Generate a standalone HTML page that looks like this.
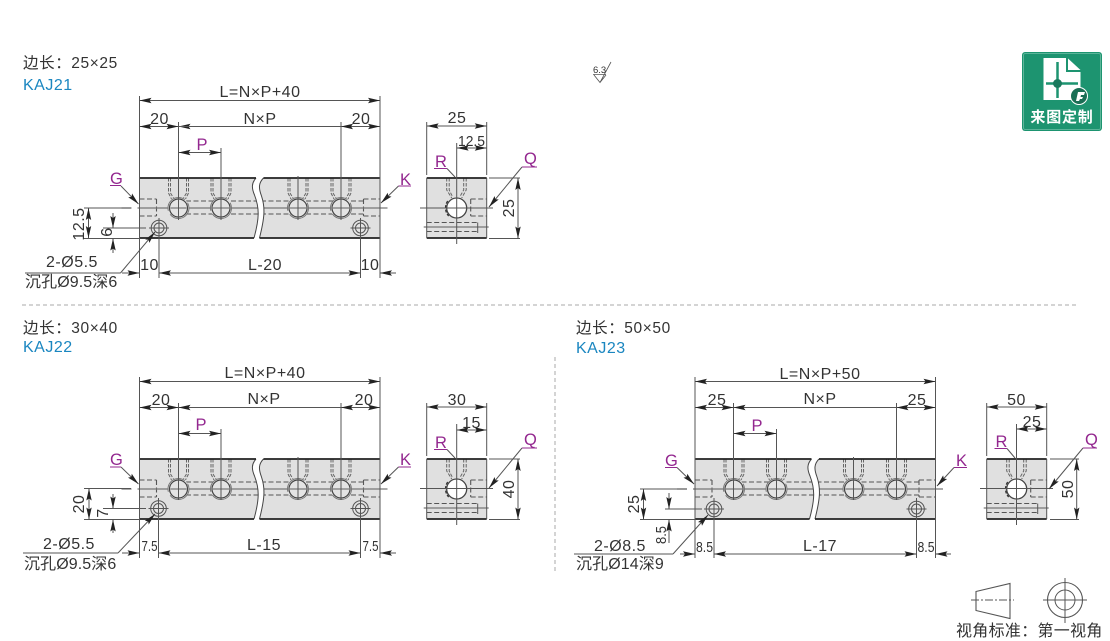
<!DOCTYPE html>
<html>
<head>
<meta charset="utf-8">
<style>
html,body{margin:0;padding:0;background:#fff}
svg{display:block}
text{font-family:"Liberation Sans","Noto Sans CJK SC",sans-serif;font-size:16px;fill:#333;letter-spacing:.5px}
.c{text-anchor:middle}
.m{fill:#93278f;font-size:16.5px;letter-spacing:0}
.s{font-size:15px;letter-spacing:0}
.h{font-size:15.5px;letter-spacing:.6px}
.k{fill:#1a86c0;font-size:16px}
.l{stroke:#555;stroke-width:1;fill:none}
.t{stroke:#93278f;stroke-width:1;fill:none}
.b{stroke:#555;stroke-width:1;fill:none;marker-start:url(#ar);marker-end:url(#ar)}
.e{stroke:#555;stroke-width:1;fill:none;marker-end:url(#ar)}
.d{stroke:#555;stroke-width:1.1;fill:none;stroke-dasharray:5 2.5}
.d2{stroke:#666;stroke-width:1;fill:none;stroke-dasharray:3.5 1.5}
.g{stroke:#777;stroke-width:1.2;fill:none}
</style>
</head>
<body>
<svg width="1110" height="641" viewBox="0 0 1110 641" xmlns="http://www.w3.org/2000/svg">
<defs>
<marker id="ar" markerUnits="userSpaceOnUse" viewBox="0 0 12 6" refX="12" refY="3" markerWidth="12" markerHeight="6" orient="auto-start-reverse"><path d="M0 0.3L12 3L0 5.700L2 3z" fill="#222"/></marker>

<g id="hole">
<path class="d2" d="M-10-30V-15L-7-9M-8-30V-15L-5-10M8-30V-15L5-10M10-30V-15L7-9"/>
<circle r="10.500" fill="#e4e4e4" stroke="#777" stroke-width="1" stroke-dasharray="26 4"/>
<circle r="9" fill="none" stroke="#444" stroke-width="1.200"/>
<path class="g" d="M-8 0H8"/>
</g>

<g id="small">
<circle r="7.800" fill="#e4e4e4" stroke="#555" stroke-width="1"/>
<circle r="5" fill="none" stroke="#555" stroke-width="1"/>
<path class="l" d="M-10 0H10"/>
</g>

<g id="block">
<rect x="0" y="0" width="240.500" height="60" fill="#e0e0e0"/>
<path class="d" d="M0 21H17M0 38H17M17 21V38M39 23H224M39 36H224M224 21H240.500M224 38H240.500M224 21V38"/>
<path class="g" d="M-18 30H-8M-2 30H248"/>
<use href="#hole" x="39" y="30"/>
<use href="#hole" x="81.500" y="30"/>
<use href="#hole" x="158.500" y="30"/>
<use href="#hole" x="201.500" y="30"/>
<path d="M116.500 -1C112 5 112 10 115 17C120 30 120 40 114.500 61H120C125 40 126 30 122 18C119 10 119 5 124 -1z" fill="#fff"/>
<path d="M116.500 0C112 5 112 10 115 17C120 30 120 40 114.500 60M124 0C119 5 119 10 122 18C126 30 125 40 120 60" stroke="#444" stroke-width="1" fill="none"/>
<path d="M0 0H116.500M124 0H240.500M0 60H114.500M120 60H240.500" stroke="#222" stroke-width="1.800" fill="none"/>
<path d="M0 0V60M240.500 0V60" stroke="#555" stroke-width="1" fill="none"/>
</g>

<g id="side">
<rect width="60" height="60" fill="#e0e0e0"/>
<path class="d2" d="M20 0V12L25 20M22.500 0V12L26 19M37 0V12L33 19M39.500 0V12L35 20"/>
<path class="d" d="M44 21H60M44 38H60M44 21V38M0 44.500H52M0 53.500H52"/>
<path class="g" d="M-3 49H62"/>
<path class="l" d="M51 44.500V55"/>
<circle cx="30" cy="30" r="10" fill="#fff" stroke="#444" stroke-width="1.300"/>
<path d="M21 23A12 12 0 0 0 22 38" stroke="#333" stroke-width="1.300" fill="none" stroke-dasharray="3 1.500"/>
<path d="M0 0H60M0 60H60" stroke="#222" stroke-width="1.800" fill="none"/>
<path d="M0 0V60M60 0V60" stroke="#555" stroke-width="1" fill="none"/>
</g>
</defs>

<!-- separators -->
<path d="M22 305H1077" stroke="#aaa" stroke-width="1" stroke-dasharray="4 3" fill="none"/>
<path d="M555 357V571" stroke="#aaa" stroke-width="1" stroke-dasharray="4 3" fill="none"/>

<!-- ========== KAJ21 ========== -->
<text class="h" x="23" y="68">边长：25×25</text>
<text class="k" x="23" y="90">KAJ21</text>
<use href="#block" x="139.500" y="178"/>
<path class="l" d="M139.500 96V178M380 96V178M178.500 122V220M341 122V220M221 148V220M298 176V220"/>
<path class="b" d="M139.500 100.500H380"/>
<path class="b" d="M139.500 126.500H178.500"/>
<path class="b" d="M341 126.500H380"/>
<path class="e" d="M190 126.500H178.500"/>
<path class="l" d="M178.500 126.500H341"/>
<path class="b" d="M178.500 152.500H221"/>
<text class="c" x="260" y="97">L=N×P+40</text>
<text class="c" x="159.500" y="124">20</text>
<text class="c" x="260" y="124">N×P</text>
<text class="c" x="361" y="124">20</text>
<text class="m c" x="202" y="150">P</text>
<use href="#small" x="159" y="228"/>
<use href="#small" x="360.500" y="228"/>
<path class="l" d="M84 208H131M84 238.500H139M103 228H146M159 218V278M360.500 218V278M139.500 238V278M380 238V278"/>
<path class="b" d="M88.500 208V238"/>
<path class="e" d="M113 213V228"/>
<path class="e" d="M113 253V238.500"/>
<text class="c" transform="translate(84 224) rotate(-90)">12.5</text>
<text class="c" transform="translate(112 232) rotate(-90)">6</text>
<path class="l" d="M25 273H120.500"/>
<path class="e" d="M120.500 273L155 232"/>
<path class="e" d="M122 273H139.500"/>
<path class="b" d="M159 273H360.500"/>
<path class="e" d="M396 273H380"/>
<text class="c" x="149.500" y="270">10</text>
<text class="c" x="265" y="270">L-20</text>
<text class="c" x="370" y="270">10</text>
<text class="c" x="72" y="267">2-Ø5.5</text>
<text x="25" y="287" style="letter-spacing:.1px">沉孔Ø9.5深6</text>
<text class="m" x="110" y="184">G</text>
<path class="t" d="M110 185.500H121"/>
<path class="e" d="M121 186L138.500 204"/>
<text class="m" x="400" y="185">K</text>
<path class="t" d="M398.500 186H411"/>
<path class="e" d="M398.500 186L381 203"/>

<use href="#side" x="426.700" y="178"/>
<path class="l" d="M426.700 122V175M486.700 122V175M456.700 143V244M420 208H493M489 178H520M489 238.500H520"/>
<path class="b" d="M426.700 126H486.700"/>
<path class="b" d="M456.700 148H486.700"/>
<path class="b" d="M518 178V238.500"/>
<text class="c" x="457" y="123">25</text>
<text class="c s" x="471.500" y="146" textLength="27" lengthAdjust="spacingAndGlyphs">12.5</text>
<text class="c" transform="translate(514 208) rotate(-90)">25</text>
<text class="m" x="435" y="167">R</text>
<path class="t" d="M434 168.500H447"/>
<path class="l" d="M447 168.500L455 177"/>
<text class="m" x="524" y="164">Q</text>
<path class="t" d="M522 167H537"/>
<path class="e" d="M522 167L489 207"/>

<!-- ========== KAJ22 ========== -->
<text class="h" x="23" y="333">边长：30×40</text>
<text class="k" x="23" y="352">KAJ22</text>
<use href="#block" x="139.500" y="459"/>
<path class="l" d="M139.500 377V459M380 377V459M178.500 403V500M341 403V500M221 429V500M298 457V500"/>
<path class="b" d="M139.500 381.500H380"/>
<path class="b" d="M139.500 407.500H178.500"/>
<path class="b" d="M341 407.500H380"/>
<path class="l" d="M178.500 407.500H341"/>
<path class="e" d="M190 407.500H178.500"/>
<path class="b" d="M178.500 433.500H221"/>
<text class="c" x="265" y="378">L=N×P+40</text>
<text class="c" x="161" y="405">20</text>
<text class="c" x="264" y="404">N×P</text>
<text class="c" x="364" y="405">20</text>
<text class="m c" x="201" y="430">P</text>
<use href="#small" x="158.500" y="508.500"/>
<use href="#small" x="360.500" y="508.500"/>
<path class="l" d="M84 488.500H131M84 519.500H139M103 508.500H146M158.500 498V558M360.500 498V558M139.500 519V558M380 519V558"/>
<path class="b" d="M89 488.500V519.500"/>
<path class="e" d="M113 494V508.500"/>
<path class="e" d="M113 533V519.500"/>
<text class="c" transform="translate(84 504) rotate(-90)">20</text>
<text class="c" transform="translate(108 513) rotate(-90)">7</text>
<path class="l" d="M23 553H118"/>
<path class="e" d="M118 553L155 514"/>
<path class="e" d="M122 553H139.500"/>
<path class="b" d="M158.500 553H360.500"/>
<path class="e" d="M396 553H380"/>
<text class="c s" x="149.500" y="551" textLength="16" lengthAdjust="spacingAndGlyphs">7.5</text>
<text class="c" x="264" y="550">L-15</text>
<text class="c s" x="370.500" y="551" textLength="16" lengthAdjust="spacingAndGlyphs">7.5</text>
<text class="c" x="69" y="549">2-Ø5.5</text>
<text x="24" y="569" style="letter-spacing:.1px">沉孔Ø9.5深6</text>
<text class="m" x="110" y="465">G</text>
<path class="t" d="M110 467H121"/>
<path class="e" d="M121 467L138.500 484"/>
<text class="m" x="400" y="465">K</text>
<path class="t" d="M398.500 467H411"/>
<path class="e" d="M398.500 467L381 484"/>

<use href="#side" x="426.700" y="459"/>
<path class="l" d="M426.700 403V456M486.700 403V456M456.700 424V525M420 488.500H493M489 459H520M489 519.500H520"/>
<path class="b" d="M426.700 407H486.700"/>
<path class="b" d="M456.700 430H486.700"/>
<path class="b" d="M518 459V519.500"/>
<text class="c" x="457" y="405">30</text>
<text class="c" x="471.500" y="428">15</text>
<text class="c" transform="translate(514 489) rotate(-90)">40</text>
<text class="m" x="435" y="448">R</text>
<path class="t" d="M434 449.500H447"/>
<path class="l" d="M447 449.500L455 458"/>
<text class="m" x="524" y="445">Q</text>
<path class="t" d="M522 448H537"/>
<path class="e" d="M522 448L489 488"/>

<!-- ========== KAJ23 ========== -->
<text class="h" x="576" y="333">边长：50×50</text>
<text class="k" x="576" y="353">KAJ23</text>
<use href="#block" x="695" y="459"/>
<path class="l" d="M695 377V459M935.500 377V459M733.500 403V500M896.500 403V500M776.500 429V500M853.500 457V500"/>
<path class="b" d="M695 381.500H935.500"/>
<path class="b" d="M695 407.500H733.500"/>
<path class="b" d="M896.500 407.500H935.500"/>
<path class="l" d="M733.500 407.500H896.500"/>
<path class="e" d="M745 407.500H733.500"/>
<path class="b" d="M733.500 433.500H776.500"/>
<text class="c" x="820" y="379">L=N×P+50</text>
<text class="c" x="717" y="405">25</text>
<text class="c" x="820" y="404">N×P</text>
<text class="c" x="917" y="405">25</text>
<text class="m c" x="757" y="431">P</text>
<use href="#small" x="714" y="509"/>
<use href="#small" x="916.500" y="509"/>
<path class="l" d="M640 489H687M640 519.500H695M665 509H702M714 498V558M916.500 498V558M695 519V558M935.500 519V558"/>
<path class="b" d="M643.500 489V519.500"/>
<path class="e" d="M669 493V509"/>
<path class="e" d="M669 543V519.500"/>
<text class="c" transform="translate(639 504) rotate(-90)">25</text>
<text class="c s" transform="translate(666 535) rotate(-90)" textLength="18" lengthAdjust="spacingAndGlyphs">8.5</text>
<path class="l" d="M574 554H673"/>
<path class="e" d="M673 554L708 515"/>
<path class="e" d="M680 554H695"/>
<path class="b" d="M714 554H916.500"/>
<path class="e" d="M951 554H935.500"/>
<text class="c s" x="704.500" y="552" textLength="17" lengthAdjust="spacingAndGlyphs">8.5</text>
<text class="c" x="820" y="551">L-17</text>
<text class="c s" x="926" y="552" textLength="17" lengthAdjust="spacingAndGlyphs">8.5</text>
<text class="c" x="620" y="551">2-Ø8.5</text>
<text x="576" y="569" style="letter-spacing:.1px">沉孔Ø14深9</text>
<text class="m" x="665" y="466">G</text>
<path class="t" d="M665 467.500H677"/>
<path class="e" d="M677 467.500L694 484"/>
<text class="m" x="956" y="466">K</text>
<path class="t" d="M954 467.500H967"/>
<path class="e" d="M954 467.500L937 486"/>

<use href="#side" x="986.700" y="459"/>
<path class="l" d="M986.700 403V456M1046.700 403V456M1016.500 424V525M980 488.500H1053M1050 459H1079M1050 519.500H1079"/>
<path class="b" d="M986.700 407H1046.700"/>
<path class="b" d="M1016.500 429H1046.700"/>
<path class="b" d="M1076.700 459V519.500"/>
<text class="c" x="1016.500" y="405">50</text>
<text class="c" x="1032" y="427">25</text>
<text class="c" transform="translate(1073 489) rotate(-90)">50</text>
<text class="m" x="995.500" y="447">R</text>
<path class="t" d="M994.500 448.500H1007"/>
<path class="l" d="M1007 448.500L1015 458"/>
<text class="m" x="1085" y="445">Q</text>
<path class="t" d="M1083 448H1097"/>
<path class="e" d="M1083 448L1049 489"/>

<!-- roughness symbol -->
<text x="593" y="73" style="font-size:9.500px;letter-spacing:0">6.3</text>
<path d="M593 74.500H606M594 75L600 82.500L611 62M606 75L600 82.500" stroke="#555" stroke-width=".8" fill="none"/>

<!-- badge -->
<rect x="1022" y="52" width="80" height="79" rx="3" fill="#1d9470"/>
<rect x="1023.500" y="53.500" width="77" height="76" rx="2" fill="none" stroke="#6fbfa6" stroke-width=".8"/>
<path d="M1043.500 58H1066V72H1080.500V100H1043.500z" fill="#fff"/>
<path d="M1068 58.500L1080.500 70H1068z" fill="#fff"/>
<path d="M1057.500 62V98M1046 83.500H1078" stroke="#1d9470" stroke-width="2.500"/>
<circle cx="1057.500" cy="83.500" r="4.500" fill="#1a7a5e"/>
<circle cx="1079" cy="96" r="8.500" fill="#1a6f55" stroke="#fff" stroke-width="1"/>
<path d="M1076 101L1078 92H1085L1084 95H1081L1080.500 97H1083L1082 99H1080L1079 101z" fill="#fff"/>
<text class="c" x="1062" y="122" style="fill:#fff;font-size:15px;font-weight:bold;letter-spacing:.8px">来图定制</text>

<!-- projection legend -->
<path d="M976 591.500L1010 583.500V618.500L976 610.500z" fill="none" stroke="#555" stroke-width="1.100"/>
<path d="M971 600H1014" stroke="#555" stroke-width="1" stroke-dasharray="8 2 2 2" fill="none"/>
<circle cx="1065" cy="600" r="17.500" fill="none" stroke="#555" stroke-width="1.100"/>
<circle cx="1065" cy="600" r="10" fill="none" stroke="#555" stroke-width="1"/>
<path d="M1043 600H1087M1065 578V623" stroke="#555" stroke-width="1" fill="none"/>
<text x="956" y="636" style="font-size:16px;letter-spacing:.3px">视角标准：第一视角</text>
</svg>
</body>
</html>
